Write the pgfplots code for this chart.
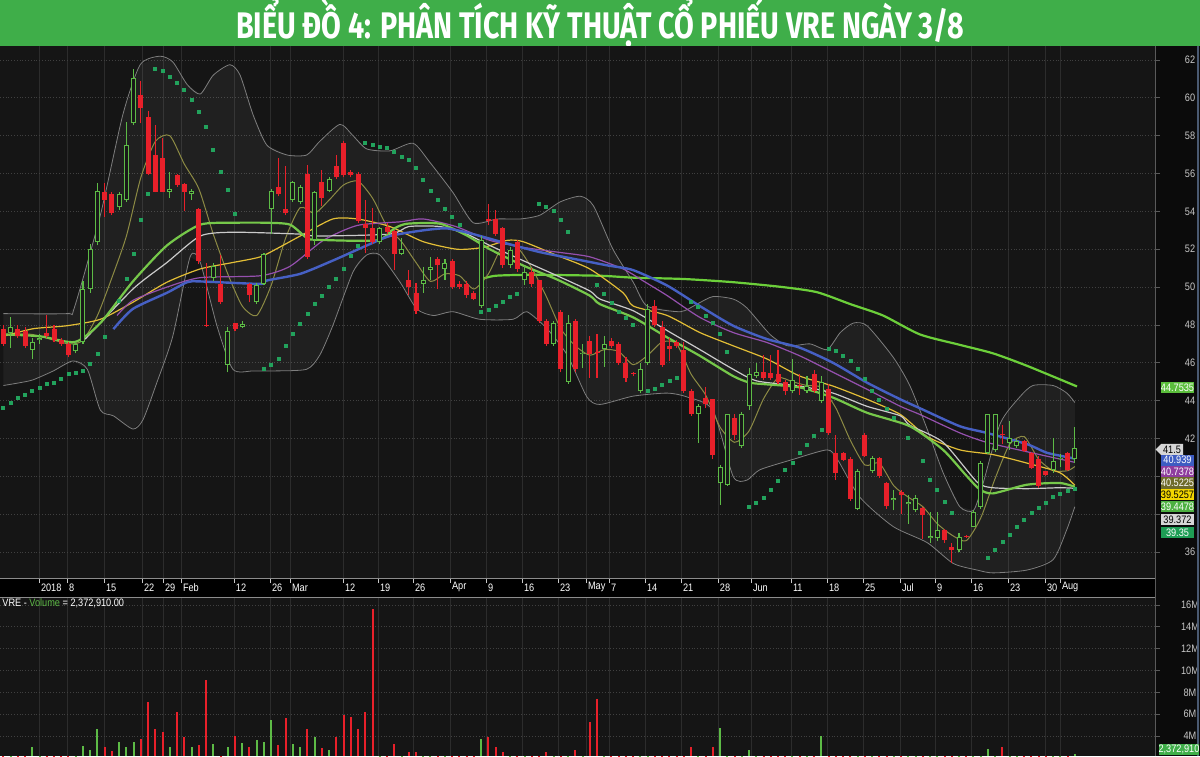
\documentclass[border=0pt]{standalone}
\usepackage{pgfplots}
\pgfplotsset{compat=1.18}
\usepackage{pgfplotstable}
\usepackage{fontspec}
\setmainfont{Liberation Sans}
\newfontfamily\titlefont{Fira Sans}

\definecolor{pagebg}{HTML}{0B0B0B}
\definecolor{plotbg}{HTML}{151515}
\definecolor{titlegreen}{HTML}{3FAE49}
\definecolor{candred}{HTML}{E8202A}
\definecolor{candgreen}{HTML}{5DBB46}
\definecolor{hollow}{HTML}{181818}
\definecolor{maTwenty}{HTML}{76C84A}
\definecolor{maHundred}{HTML}{6CCF3A}
\definecolor{maBlue}{HTML}{4660C4}
\definecolor{maPurple}{HTML}{9550AE}
\definecolor{maYellow}{HTML}{E3BE36}
\definecolor{maOlive}{HTML}{8C8A44}
\definecolor{maWhite}{HTML}{CACACA}
\definecolor{sar}{HTML}{22A25C}
\definecolor{bband}{HTML}{7E7E7E}
\definecolor{ticktext}{HTML}{C8C8C8}
\definecolor{hgrid}{HTML}{404040}
\definecolor{vgrid}{HTML}{2C2C2C}
\definecolor{sepline}{HTML}{5A5A5A}
\definecolor{edgeblue}{HTML}{4A5A72}
\definecolor{tagHundred}{HTML}{5BBE3C}
\definecolor{tagLast}{HTML}{D6D6D6}
\definecolor{tagBlue}{HTML}{3D5CC2}
\definecolor{tagPurple}{HTML}{8E3C9E}
\definecolor{tagOlive}{HTML}{6E6B2A}
\definecolor{tagYellow}{HTML}{F2D600}
\definecolor{tagGreen}{HTML}{4CB040}
\definecolor{tagWhite}{HTML}{D6D6D6}
\definecolor{tagSar}{HTML}{1E9E55}

\newcommand\nl[1]{\scalebox{0.85}[1]{#1}}
\newcommand\chartfont{\fontsize{5.4}{6}\selectfont}

% down days: index, open, high, low, close, volume (millions)
\pgfplotstableread{
i o h l c v
0 47.8 48.0 46.9 47.0 1.5
2 47.8 48.0 47.3 47.4 1.2
3 47.7 47.9 46.8 46.9 1.5
6 47.6 48.5 47.3 47.4 1.5
7 47.8 48.0 47.1 47.2 1.4
8 47.2 47.3 46.9 47.0 1.1
9 47.0 47.1 46.3 46.4 1.6
14 55.05 55.5 53.7 54.6 2.96
15 54.9 55.0 53.8 53.9 2.6
19 60.14 60.9 58.65 59.45 3.75
20 59.0 59.3 55.9 56.0 7.1
21 56.96 58.55 55.0 55.05 4.67
22 56.8 57.9 55.0 55.05 4.4
24 55.9 56.0 55.3 55.4 6.2
25 55.47 55.5 54.0 55.05 3.9
27 54.15 54.2 51.2 51.4 3.2
28 48.0 51.3 47.9 47.95 9.1
30 50.17 51.7 49.1 49.2 2.0
32 48.1 48.1 47.7 47.8 4.0
34 50.17 50.2 49.2 49.6 2.96
38 55.3 56.8 54.8 54.9 3.2
39 54.15 56.4 53.8 53.9 5.65
42 56.0 56.45 51.5 51.6 4.67
44 55.56 56.2 54.3 54.7 2.9
46 56.4 56.98 55.7 55.8 3.9
47 57.6 57.7 55.8 55.9 5.95
48 56.1 56.2 55.8 55.9 5.7
49 56.0 56.1 53.4 53.5 4.67
50 53.35 54.6 51.8 53.1 6.2
51 53.1 54.2 52.3 52.4 15.66
53 53.17 53.4 52.8 52.9 1.9
54 52.95 53.0 50.9 51.76 3.3
56 50.35 50.9 49.6 50.0 2.55
57 49.7 50.2 48.6 48.75 2.5
60 51.5 51.6 49.9 51.15 1.2
62 51.4 51.5 49.9 50.0 1.5
63 50.17 50.3 49.9 50.0 1.0
64 50.17 50.3 49.45 49.6 1.2
65 49.68 49.8 49.3 49.37 1.1
67 53.6 54.4 53.3 53.5 3.9
68 53.6 54.1 52.7 52.8 2.96
69 53.1 53.2 51.0 51.15 2.5
71 52.4 52.5 50.8 50.96 1.6
73 50.8 51.0 50.0 50.17 1.0
74 50.35 50.4 48.1 48.2 1.9
75 48.2 48.3 46.9 47.0 2.5
77 48.7 48.8 45.5 45.66 2.0
79 48.2 48.3 45.5 45.66 2.7
81 47.13 47.4 45.2 46.45 5.3
82 46.55 47.5 45.2 46.5 7.4
84 47.17 47.3 46.8 46.9 1.1
85 46.99 47.1 45.9 46.0 1.6
86 46.0 46.3 45.0 45.2 1.8
87 45.45 45.5 45.3 45.4 1.2
90 49.0 49.3 47.9 48.0 1.9
91 47.9 48.2 45.8 45.9 1.8
92 46.9 47.3 46.1 46.75 1.4
93 47.1 47.2 46.8 46.9 1.2
94 46.7 47.1 44.4 44.5 1.9
95 44.5 44.6 43.2 43.3 2.96
97 44.16 44.7 43.6 43.8 1.9
98 44.07 44.1 40.9 41.15 2.96
101 43.1 43.3 41.9 42.2 1.8
105 45.5 46.4 45.1 45.2 1.0
106 45.45 46.4 45.1 45.2 1.1
107 45.4 46.7 44.9 44.97 1.3
108 44.97 45.1 44.3 44.5 1.2
110 44.85 45.4 44.3 44.75 0.9
112 45.4 45.6 44.4 44.5 1.1
114 44.6 44.9 42.2 42.3 2.0
115 41.24 42.2 39.8 40.18 2.0
116 41.24 41.3 40.8 40.89 1.3
117 40.9 41.0 38.7 38.8 2.0
119 42.2 42.3 41.0 41.07 1.5
121 40.97 41.0 39.9 40.0 1.4
122 39.64 39.7 38.3 38.41 1.8
124 39.2 39.3 38.0 39.03 1.2
127 38.32 38.4 36.7 37.97 1.6
130 37.17 37.2 36.5 36.64 1.3
131 36.29 36.5 35.4 36.11 1.8
133 36.85 36.9 36.75 36.8 0.8
138 42.25 42.7 41.7 42.2 3.0
141 41.86 41.9 41.3 41.33 1.2
142 41.24 41.3 40.4 40.45 1.6
143 40.9 41.1 39.4 39.47 2.0
144 40.27 40.3 40.0 40.09 1.1
147 41.24 41.3 40.3 40.36 1.5
}\downdays

% up days: index, open, high, low, close, volume (millions)
\pgfplotstableread{
i o h l c v
1 47.6 48.4 46.8 47.9 1.3
4 46.7 47.3 46.2 47.1 2.96
5 47.2 47.5 47.0 47.3 1.2
10 46.6 47.1 46.5 47.0 1.3
11 47.1 50.3 47.0 49.9 3.1
12 49.9 52.3 49.7 52.0 2.7
13 52.4 55.5 52.2 55.1 4.6
16 54.25 55.0 54.1 54.9 3.45
17 54.6 58.75 54.5 57.5 2.96
18 58.65 61.5 58.55 61.05 3.45
23 55.05 56.1 54.7 55.2 2.96
26 54.9 55.2 54.6 55.1 2.96
29 50.5 51.3 50.3 51.1 3.3
31 45.9 47.9 45.5 47.7 2.96
33 47.9 48.2 47.85 48.05 3.4
35 49.2 50.2 49.1 50.1 3.6
36 50.17 51.8 50.1 51.75 3.45
37 54.15 55.2 52.8 55.1 5.5
40 54.6 55.6 54.5 55.56 3.3
41 54.5 55.4 54.4 55.3 2.96
43 52.5 55.1 52.2 55.0 3.9
45 55.1 55.8 55.0 55.7 2.7
52 52.4 53.2 52.3 53.1 1.8
55 51.76 52.6 51.7 52.0 1.2
58 50.17 51.05 49.7 50.4 1.4
59 50.9 51.6 50.4 51.05 1.3
61 50.96 51.5 50.4 51.3 1.1
66 49.0 52.7 48.9 52.47 3.75
70 51.15 52.1 51.0 51.97 1.3
72 50.35 51.1 50.1 50.8 1.1
76 47.0 48.2 46.9 48.1 1.8
78 45.0 48.5 44.9 48.1 2.1
80 46.45 47.0 45.7 46.5 1.9
83 46.72 47.4 45.8 46.99 1.3
88 44.5 46.0 44.4 45.66 2.0
89 46.0 49.1 45.9 48.84 2.1
96 43.3 43.8 41.77 43.7 2.0
99 39.65 40.6 38.5 40.5 4.7
100 39.56 43.3 39.5 43.27 2.0
102 41.6 43.4 41.5 43.3 2.0
103 43.7 45.7 43.5 45.4 2.7
104 45.3 46.0 45.2 45.5 1.2
109 44.5 46.2 44.4 45.1 1.0
111 44.5 45.3 44.4 44.8 0.9
113 44.0 45.3 43.9 44.97 4.0
118 38.3 40.4 38.2 40.27 1.8
120 40.27 41.1 40.2 40.97 1.2
123 38.76 39.3 38.2 38.85 1.3
125 38.55 39.0 37.5 38.65 1.3
126 38.23 39.0 38.1 38.85 1.1
128 36.75 38.1 36.5 36.85 1.7
129 36.73 38.1 36.6 37.17 1.4
132 36.11 37.0 36.0 36.8 1.5
134 37.35 38.2 37.3 38.14 1.9
135 38.4 40.8 38.3 40.7 2.0
136 41.24 43.3 41.2 43.27 2.8
137 41.4 43.3 41.3 43.27 2.0
139 41.77 42.9 41.4 42.04 1.4
140 41.6 42.0 41.5 41.86 1.0
145 40.36 42.05 40.2 40.8 1.8
146 40.9 41.2 40.5 40.97 1.0
148 40.9 42.6 40.7 41.5 2.37
}\updays

\pgfplotsset{
  chartaxis/.style={
    scale only axis, width=577.5pt,
    xmin=-0.46, xmax=159.07,
    axis background/.style={fill=plotbg},
    axis line style={draw=none},
    tick align=outside, major tick length=2.5pt,
    xtick={4.93,8.80,13.91,19.16,22.06,24.54,31.86,36.84,39.60,46.92,51.76,56.59,61.70,66.67,71.64,76.62,80.48,83.66,88.63,93.60,98.71,103.27,108.80,113.77,118.74,123.85,128.69,133.66,138.77,143.88,145.95},
    xmajorgrids, ymajorgrids,
    x grid style={solid, line width=0.4pt, color=vgrid},
    y grid style={densely dotted, line width=0.4pt, color=hgrid},
    xtick pos=left, ytick pos=right, yticklabel pos=right,
    ytick style={draw=sepline, line width=0.4pt},
    yticklabel style={anchor=center, xshift=15pt, text=ticktext, font=\chartfont},
  },
}

\begin{document}
\begin{tikzpicture}
\clip (0,0) rectangle (600pt,378pt);
\fill[pagebg] (0,0) rectangle (600pt,378pt);
% title banner
\fill[titlegreen] (0,355pt) rectangle (600pt,378pt);
\node[text=white, font={\titlefont\bfseries\fontsize{18.5}{21}\selectfont}] at (300pt,366.5pt)
  {\scalebox{0.775}[1]{BIỂU ĐỒ 4: PHÂN TÍCH KỸ THUẬT CỔ PHIẾU VRE NGÀY 3/8}};
% date strip between the panels
\fill[black] (0,79.5pt) rectangle (577.5pt,89pt);

% ---------------- price panel ----------------
\begin{axis}[chartaxis,
  at={(0pt,89pt)}, anchor=south west, height=266pt,
  ymin=34.63, ymax=62.74,
  xtick style={draw=ticktext, line width=0.4pt},
  xticklabels={\nl{2018},\nl{8},\nl{15},\nl{22},\nl{29},\nl{Feb},\nl{12},\nl{26},\nl{Mar},\nl{12},\nl{19},\nl{26},\nl{Apr},\nl{9},\nl{16},\nl{23},\nl{May},\nl{7},\nl{14},\nl{21},\nl{28},\nl{Jun},\nl{11},\nl{18},\nl{25},\nl{Jul},\nl{9},\nl{16},\nl{23},\nl{30},\nl{Aug}},
  xticklabel style={anchor=west, inner sep=0pt, xshift=0.8pt, yshift=-2.2pt, text=white, font=\chartfont},
  ytick={36,38,...,62},
  % 38 and 40 sit under the value tags
  yticklabels={\nl{36},,,\nl{42},\nl{44},\nl{46},\nl{48},\nl{50},\nl{52},\nl{54},\nl{56},\nl{58},\nl{60},\nl{62}},
]
% Bollinger band area (upper edge, then lower edge back)
\addplot[fill=white, fill opacity=0.05, draw=none] coordinates {
(0,48.6) (8.8,48.6) (9.8,48.9) (13.4,53.8) (16.5,59.1) (18.9,61.75) (21.6,62.2) (23.4,61.9) (25.4,60.7) (27.2,60.2) (29.0,61.2) (31.3,61.75) (32.7,61.2) (34.5,59.1) (36.4,57.5) (39.2,56.98) (41.9,56.98) (43.7,57.7) (46.5,58.6) (48.3,58.0) (50.2,57.3) (53.4,57.2) (56.6,57.6) (58.9,56.6) (62.1,55.0) (64.9,53.4) (68.2,53.6) (71.4,53.6) (74.1,53.8) (76.9,54.5) (79.7,54.8) (81.5,54.3) (84.2,52.0) (87.0,50.26) (88.9,49.0) (93.5,48.7) (95.8,49.1) (98.0,49.5) (100.8,49.37) (102.7,48.9) (105.9,47.5) (108.3,46.9) (111.4,47.0) (113.8,46.7) (115.6,47.6) (117.4,48.1) (119.3,47.96) (122.9,46.3) (125.2,44.8) (127.6,42.5) (129.8,40.2) (132.1,38.4) (134.0,38.2) (135.3,39.6) (137.7,42.8) (140.4,44.2) (142.2,44.8) (145.0,44.8) (146.9,44.4) (148.0,43.9)
(148.0,38.4) (146.9,37.2) (145.0,35.6) (141.4,35.05) (136.7,34.9) (134.5,35.05) (131.2,35.4) (127.6,36.5) (122.9,37.35) (118.3,38.9) (115.2,40.9) (113.8,41.4) (109.1,40.9) (104.5,40.35) (102.7,39.8) (100.8,40.0) (98.0,43.5) (94.4,44.2) (91.7,44.4) (87.0,44.24) (82.4,43.8) (80.6,44.2) (77.9,46.4) (75.1,47.8) (72.3,48.7) (70.4,48.3) (65.8,48.3) (62.1,48.7) (59.4,48.5) (57.1,48.85) (54.8,50.26) (52.0,51.7) (50.2,51.7) (48.3,50.8) (45.5,47.96) (43.7,46.4) (41.9,45.66) (37.3,45.57) (34.5,45.57) (31.7,45.66) (29.5,47.96) (27.2,51.3) (25.8,51.6) (23.4,47.4) (21.2,44.95) (19.3,43.0) (17.9,42.5) (15.2,43.2) (13.4,43.5) (11.6,45.66) (9.6,46.1) (6.9,45.57) (4.1,45.1) (2.3,44.95) (0,44.8)};
% Bollinger band edges
\addplot[bband, line width=0.4pt, smooth, tension=0.4] coordinates {
(0,48.6) (8.8,48.6) (9.8,48.9) (13.4,53.8) (16.5,59.1) (18.9,61.75) (21.6,62.2) (23.4,61.9) (25.4,60.7) (27.2,60.2) (29.0,61.2) (31.3,61.75) (32.7,61.2) (34.5,59.1) (36.4,57.5) (39.2,56.98) (41.9,56.98) (43.7,57.7) (46.5,58.6) (48.3,58.0) (50.2,57.3) (53.4,57.2) (56.6,57.6) (58.9,56.6) (62.1,55.0) (64.9,53.4) (68.2,53.6) (71.4,53.6) (74.1,53.8) (76.9,54.5) (79.7,54.8) (81.5,54.3) (84.2,52.0) (87.0,50.26) (88.9,49.0) (93.5,48.7) (95.8,49.1) (98.0,49.5) (100.8,49.37) (102.7,48.9) (105.9,47.5) (108.3,46.9) (111.4,47.0) (113.8,46.7) (115.6,47.6) (117.4,48.1) (119.3,47.96) (122.9,46.3) (125.2,44.8) (127.6,42.5) (129.8,40.2) (132.1,38.4) (134.0,38.2) (135.3,39.6) (137.7,42.8) (140.4,44.2) (142.2,44.8) (145.0,44.8) (146.9,44.4) (148.0,43.9)};
\addplot[bband, line width=0.4pt, smooth, tension=0.4] coordinates {
(0,44.8) (2.3,44.95) (4.1,45.1) (6.9,45.57) (9.6,46.1) (11.6,45.66) (13.4,43.5) (15.2,43.2) (17.9,42.5) (19.3,43.0) (21.2,44.95) (23.4,47.4) (25.8,51.6) (27.2,51.3) (29.5,47.96) (31.7,45.66) (34.5,45.57) (37.3,45.57) (41.9,45.66) (43.7,46.4) (45.5,47.96) (48.3,50.8) (50.2,51.7) (52.0,51.7) (54.8,50.26) (57.1,48.85) (59.4,48.5) (62.1,48.7) (65.8,48.3) (70.4,48.3) (72.3,48.7) (75.1,47.8) (77.9,46.4) (80.6,44.2) (82.4,43.8) (87.0,44.24) (91.7,44.4) (94.4,44.2) (98.0,43.5) (100.8,40.0) (102.7,39.8) (104.5,40.35) (109.1,40.9) (113.8,41.4) (115.2,40.9) (118.3,38.9) (122.9,37.35) (127.6,36.5) (131.2,35.4) (134.5,35.05) (136.7,34.9) (141.4,35.05) (145.0,35.6) (146.9,37.2) (148.0,38.4)};

% moving averages
\addplot[maHundred, line width=1.1pt, smooth, tension=0.4] coordinates {
(65.8,50.4) (68.0,50.6) (73.2,50.65) (82.4,50.6) (86.97,50.5) (93.9,50.43) (100.8,50.26) (107.7,50.0) (112.4,49.73) (117.0,49.1) (121.5,48.5) (126.6,47.5) (132.1,46.95) (136.7,46.5) (141.4,45.84) (148.3,44.75)};
\addplot[maOlive, line width=0.5pt, smooth, tension=0.4] coordinates {
(0,47.5) (4,47.5) (9,47.0) (11,47.2) (13,48.5) (15,50.5) (17,52.7) (19,55.8) (21,57.7) (23,58.0) (25,56.5) (27,55.2) (29,52.8) (31,50.7) (33,49.0) (35,48.5) (37,50.1) (39,52.6) (41,54.2) (43,53.9) (45,54.6) (47,55.4) (49,55.6) (51,54.7) (53,53.2) (55,52.4) (57,51.3) (59,50.3) (61,50.7) (63,50.6) (65,49.9) (67,50.7) (69,52.2) (71,52.1) (73,51.0) (75,49.5) (77,47.8) (79,46.9) (81,46.4) (83,46.7) (85,46.6) (87,45.9) (89,46.4) (91,47.1) (93,47.0) (95,45.4) (97,44.3) (99,42.6) (101,41.8) (103,42.4) (105,44.1) (107,45.2) (109,45.0) (111,44.8) (113,44.7) (115,43.6) (117,41.9) (119,40.6) (121,40.7) (123,39.5) (125,38.9) (127,38.4) (129,37.5) (131,36.9) (133,36.6) (135,37.8) (137,39.9) (139,41.7) (141,42.1) (143,40.9) (145,40.3) (147,40.3) (148,40.52)};
\addplot[maYellow, line width=0.6pt, smooth, tension=0.4] coordinates {
(0,47.4) (4.1,47.8) (8.8,47.96) (13.4,48.3) (17.9,49.2) (22.6,50.26) (27.2,50.96) (31.7,51.3) (35.5,51.6) (38.6,52.2) (41.0,52.7) (45.5,53.6) (48.9,53.6) (53.4,53.2) (58.0,52.4) (62.7,52.0) (66.3,52.1) (69.6,52.47) (71.8,52.4) (76.5,51.67) (81.0,50.96) (85.6,49.7) (87.0,49.0) (91.7,48.5) (96.2,47.6) (100.8,46.9) (105.5,46.2) (110.0,45.3) (114.6,44.77) (119.3,44.07) (123.9,43.27) (127.6,42.1) (132.1,41.4) (136.7,41.15) (141.4,40.7) (145.9,40.2) (148.0,39.53)};
\addplot[maPurple, line width=0.6pt, smooth, tension=0.4] coordinates {
(15.7,48.5) (17.9,49.3) (22.6,50.0) (27.2,50.5) (35.5,50.6) (39.6,51.1) (44.2,52.47) (48.9,53.26) (54.8,53.45) (58.0,53.6) (62.5,53.2) (67.2,52.47) (71.8,52.1) (76.5,51.85) (81.0,51.6) (85.6,50.96) (88.5,50.3) (91.7,49.55) (96.2,48.4) (100.8,47.6) (105.5,47.07) (110.0,46.37) (114.6,45.5) (119.3,44.6) (123.9,43.7) (126.6,43.27) (132.1,42.3) (135.8,41.8) (141.4,41.3) (148.0,40.74)};
\addplot[maWhite, line width=0.6pt, smooth, tension=0.4] coordinates {
(11.3,47.25) (17.9,49.9) (22.6,51.3) (27.2,52.7) (31.7,52.9) (41.0,52.8) (43.3,52.7) (53.4,52.8) (56.0,53.2) (60.3,53.2) (64.0,52.8) (67.2,52.2) (71.8,51.4) (76.5,50.6) (81.0,49.8) (82.4,49.37) (87.0,48.75) (91.7,47.7) (96.2,46.7) (100.8,45.66) (104.1,45.04) (110.0,44.77) (114.6,44.4) (119.3,43.7) (123.9,43.2) (125.2,42.7) (129.8,41.8) (134.5,39.7) (136.7,39.4) (141.4,39.35) (145.9,39.4) (148.0,39.37)};
\addplot[maTwenty, line width=1.1pt, smooth, tension=0.4] coordinates {
(0,47.5) (5.1,47.4) (9.9,47.1) (13.4,48.1) (17.9,50.3) (22.6,52.2) (27.2,53.3) (31.7,53.4) (36.4,53.4) (39.6,53.3) (41.9,52.6) (43.3,52.5) (51.6,52.47) (54.0,53.1) (55.8,53.35) (60.3,53.35) (64.0,52.73) (67.2,52.0) (71.8,51.14) (76.5,50.4) (81.0,49.55) (82.4,49.1) (87.0,48.4) (91.7,47.34) (96.2,46.37) (100.8,45.3) (103.1,44.95) (105.5,44.86) (110.0,44.7) (114.6,44.16) (119.3,43.36) (125.2,42.65) (129.8,41.4) (133.1,40.0) (134.9,39.3) (136.7,39.1) (141.4,39.56) (145.9,39.65) (148.0,39.45)};
\addplot[maBlue, line width=1.2pt, smooth, tension=0.4] coordinates {
(15.2,47.78) (17.9,48.85) (22.6,49.7) (25.4,50.26) (27.2,50.3) (35.5,50.17) (36.4,50.35) (41.0,50.7) (45.5,51.4) (50.2,52.2) (53.4,52.7) (58.0,53.0) (61.3,53.1) (64.9,52.8) (69.6,52.3) (74.1,51.85) (78.7,51.5) (83.4,51.15) (86.97,50.9) (91.7,50.08) (96.2,49.0) (100.8,47.96) (105.5,47.25) (110.0,46.8) (114.6,46.0) (119.3,44.95) (123.9,44.07) (126.6,43.6) (132.1,42.65) (135.8,42.3) (141.4,41.7) (144.2,41.24) (148.0,40.94)};

% parabolic SAR
\addplot[only marks, mark=square*, mark size=0.75pt, sar] coordinates {
(0,43.63) (1,43.89) (2,44.16) (3,44.33) (4,44.51) (5,44.69) (6,44.87) (7,44.95) (8,45.13) (9,45.39) (10,45.48) (11,45.57) (12,45.93) (13,46.46) (14,47.39) (16,49.29) (17,50.44) (18,51.76) (19,53.53) (20,54.93)
(21,61.54) (22,61.4) (23,61.13) (24,60.78) (25,60.43) (26,59.9) (27,59.28) (28,58.48) (29,57.24) (30,56.1) (31,55.12) (32,53.88)
(36,45.7) (37,45.87) (38,46.19) (39,46.9) (40,47.52) (41,48.03) (42,48.58) (43,49.11) (44,49.55) (45,50.0) (46,50.44) (47,50.97) (48,51.64) (49,52.2)
(50,57.6) (51,57.51) (52,57.39) (53,57.33) (54,57.15) (55,56.89) (56,56.71) (57,56.31) (58,55.69) (59,55.09) (60,54.59) (61,54.11) (62,53.71) (63,53.3)
(66,48.67) (67,48.79) (68,49.02) (69,49.2) (70,49.46) (71,49.64)
(74,54.41) (75,54.24) (76,54.01) (77,53.53) (78,52.91)
(82,50.12) (83,49.62) (84,49.14) (85,48.7) (86,48.35) (87,47.99)
(89,44.51) (90,44.6) (91,44.81) (92,45.04) (93,45.22)
(95,49.2) (96,48.93) (97,48.49) (98,48.1) (99,47.52) (100,46.58)
(103,38.41) (104,38.59) (105,38.85) (106,39.3) (107,39.74) (108,40.32) (109,40.71) (110,41.24) (111,41.68) (112,42.12) (113,42.48)
(114,46.72) (115,46.63) (116,46.37) (117,46.1) (118,45.7) (119,45.13) (120,44.51) (121,44.03) (122,43.54) (123,43.1) (125,42.04) (127,40.8) (128,39.83) (129,39.26) (130,38.67) (131,38.06)
(136,35.67) (137,36.11) (138,36.55) (139,36.91) (140,37.35) (141,37.7) (142,38.06) (143,38.32) (144,38.62) (145,38.91) (146,39.1) (147,39.25) (148,39.35)};

% candles: wicks low->high, then bodies (up days drawn hollow)
\addplot[quiver={u=0, v=\thisrow{h}-\thisrow{l}}, candred, line width=0.55pt] table[x=i, y=l] {\downdays};
\addplot[quiver={u=0, v=\thisrow{h}-\thisrow{l}}, candgreen, line width=0.55pt] table[x=i, y=l] {\updays};
\addplot[quiver={u=0, v={max(\thisrow{o}-\thisrow{c},0.06)}}, candred, line width=2.5pt] table[x=i, y=c] {\downdays};
\addplot[quiver={u=0, v={max(\thisrow{c}-\thisrow{o},0.06)}}, candgreen, line width=2.5pt] table[x=i, y=o] {\updays};
\addplot[quiver={u=0, v={max(\thisrow{c}-\thisrow{o}-0.106,0.001)}}, hollow, line width=1.5pt] table[x=i, y expr=\thisrow{o}+0.053] {\updays};
\end{axis}

% ---------------- volume panel ----------------
\begin{axis}[chartaxis,
  at={(0pt,0pt)}, anchor=south west, height=79.5pt,
  ymin=2.17, ymax=16.73,
  xticklabels={}, xtick style={draw=none},
  ytick={4,6,...,16},
  yticklabels={\nl{4M},\nl{6M},\nl{8M},\nl{10M},\nl{12M},\nl{14M},\nl{16M}},
]
\addplot[ycomb, candred, line width=1pt, mark=none] table[x=i, y=v] {\downdays};
\addplot[ycomb, candgreen, line width=1pt, mark=none] table[x=i, y=v] {\updays};
\end{axis}

% frame lines
\draw[sepline, line width=0.5pt] (577.5pt,0) -- (577.5pt,355pt);
\draw[white!55!black, line width=0.5pt] (0,89pt) -- (577.5pt,89pt);
\draw[white!55!black, line width=0.5pt] (0,79.5pt) -- (577.5pt,79.5pt);
\draw[edgeblue, line width=1pt] (599pt,0) -- (599pt,355pt);

% volume caption
\node[anchor=west, inner sep=0pt, font=\chartfont, text=white] at (1pt,76.3pt)
  {\nl{VRE - \textcolor{candgreen}{Volume} = 2,372,910.00}};

% last-value tags on the price scale
\tikzset{tag/.style={fill=#1, minimum width=16.5pt, minimum height=5.6pt, inner sep=0pt, font=\chartfont}}
\node[tag=tagHundred, text=white] at (588.75pt,184.25pt) {\nl{44.7535}};
\fill[tagLast] (577.8pt,153.25pt) -- (580.5pt,156pt) -- (591.5pt,156pt) -- (591.5pt,150.5pt) -- (580.5pt,150.5pt) -- cycle;
\node[font=\chartfont, text=black, inner sep=0pt] at (586pt,153.25pt) {\nl{41.5}};
\node[tag=tagBlue, text=white] at (588.75pt,147.9pt) {\nl{40.939}};
\node[tag=tagPurple, text=white] at (588.75pt,142.2pt) {\nl{40.7378}};
\node[tag=tagOlive, text=white] at (588.75pt,136.5pt) {\nl{40.5225}};
\node[tag=tagYellow, text=black] at (588.75pt,130.6pt) {\nl{39.5257}};
\node[tag=tagGreen, text=white] at (588.75pt,124.8pt) {\nl{39.4478}};
\node[tag=tagWhite, text=black] at (588.75pt,118.3pt) {\nl{39.372}};
\node[tag=tagSar, text=white] at (588.75pt,111.8pt) {\nl{39.35}};
\node[tag=titlegreen, text=white] at (589.5pt,3.4pt) {\nl{2,372,910}};
\end{tikzpicture}
\end{document}
